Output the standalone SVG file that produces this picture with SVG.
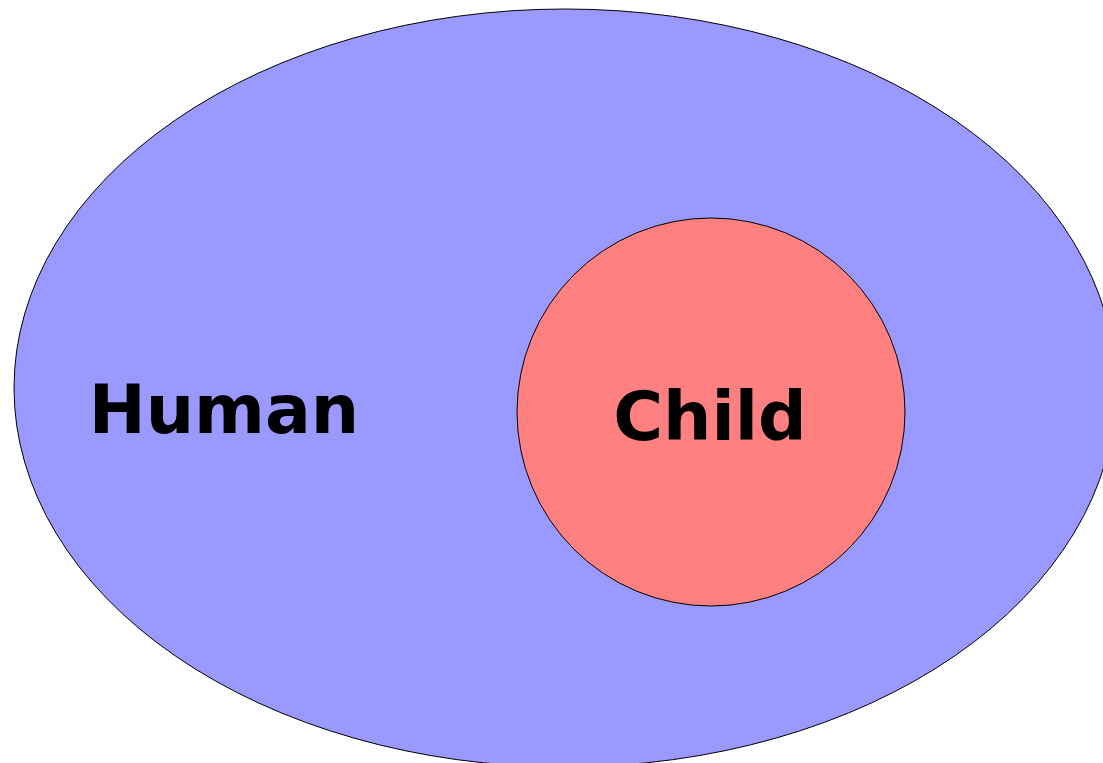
<svg xmlns="http://www.w3.org/2000/svg" width="1103" height="763" viewBox="0 0 1103 763">
<style>
.lbl{font-family:"DejaVu Sans",sans-serif;font-weight:bold;font-size:68px;fill:#000;text-anchor:middle}
</style>
<rect width="1103" height="763" fill="#fff"/>
<g id="human">
<ellipse cx="565" cy="388" rx="551" ry="379" fill="#9999ff" stroke="#000" stroke-width="1"/>
<text class="lbl" x="224" y="433">Human</text>
</g>
<g id="child">
<circle cx="711" cy="412" r="194" fill="#ff8080" stroke="#000" stroke-width="1"/>
<text class="lbl" x="710" y="440">Child</text>
</g>
<g id="connectors"/>
</svg>
